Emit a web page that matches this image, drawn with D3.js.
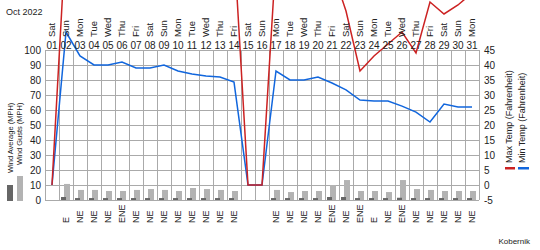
<!DOCTYPE html>
<html>
<head>
<meta charset="utf-8">
<script src="https://cdn.jsdelivr.net/npm/d3@7"></script>
<style>
  body { margin: 0; background: #fff; }
  text { font-family: "Liberation Sans", Arial, sans-serif; fill: #222; }
</style>
</head>
<body>
<div class="chart"></div>
<script>
// days of the month and their weekday names
const dates = ["01","02","03","04","05","06","07","08","09","10","11","12","13","14","15","16",
    "17","18","19","20","21","22","23","24","25","26","27","28","29","30","31"];
const weekdays = ["Sat","Sun","Mon","Tue","Wed","Thu","Fri","Sat","Sun","Mon","Tue","Wed","Thu","Fri",
    "Sat","Sun","Mon","Tue","Wed","Thu","Fri","Sat","Sun","Mon","Tue","Wed","Thu","Fri","Sat","Sun","Mon"];
const windDir = ["","E","NE","NE","NE","ENE","NE","NE","NE","NE","NE","NE","NE","NE","","",
    "NE","NE","NE","NE","ENE","NE","ENE","E","NE","ENE","NE","NE","NE","NE","NE"];

// wind (MPH)
const windAvg = [null,2,1.3,1.3,1.3,1.3,1.3,1.3,1.3,1.3,1.3,1.3,1.3,1.3,null,null,
    1.3,1.3,1.3,1.3,2,2,1.3,1.3,1.3,1.5,1.3,1.3,1.3,1.3,1.3];
const windGust = [null,10.7,6.7,6.7,6,6,6.7,7.3,6.7,6,8,7.3,6.7,6,null,null,
    6.7,5.3,6,6,10,13.3,6,6,5.3,13.3,7.3,6.7,6,6,6];

// temperature (F)
const maxTemp = [0,84,82,80,80,82,80,80,80,80,80,80,80,80,0,0,
    76,75,75,75,72,58,38,43,47,51,44,61,57,60,64];
const minTemp = [0,51,43,40,40,41,39,39,40,38,37,36.3,36,34.3,0,0,
    38,35,35,36,34,31.7,28.3,28,28,26.3,24.3,21,27,26,26];

// axis ticks
const windTicks = [0,10,20,30,40,50,60,70,80,90,100];
const tempTicks = [-5,0,5,10,15,20,25,30,35,40,45];

const W = 540, H = 250;
const plotL = 45, plotR = 479, plotT = 50, plotB = 200;

const svg = d3.select("div.chart")
    .append("svg")
    .attr("width", W)
    .attr("height", H);

const x = d3.scaleBand().domain(dates).range([plotL, plotR]).padding(0);
const bw = x.bandwidth();
const yWind = d3.scaleLinear().domain([0, 100]).range([plotB, plotT]);
const yTemp = d3.scaleLinear().domain([-5, 45]).range([plotB, plotT]);

const grid = "#aaa";

// horizontal grid
svg.selectAll("line.h")
    .data(windTicks)
    .enter().append("line")
    .attr("x1", plotL).attr("x2", plotR)
    .attr("y1", d => yWind(d) + 0.5).attr("y2", d => yWind(d) + 0.5)
    .attr("stroke", grid);

// vertical grid (column edges)
svg.selectAll("line.v")
    .data(dates.concat(["end"]))
    .enter().append("line")
    .attr("x1", d => Math.round(d === "end" ? plotR : x(d)) + 0.5)
    .attr("x2", d => Math.round(d === "end" ? plotR : x(d)) + 0.5)
    .attr("y1", plotT).attr("y2", plotB)
    .attr("stroke", grid);

// left ticks
svg.selectAll("text.yl")
    .data(windTicks)
    .enter().append("text")
    .attr("x", 41).attr("y", d => yWind(d))
    .attr("dy", "0.35em")
    .attr("text-anchor", "end")
    .attr("font-size", "10px")
    .text(d => d);

// right ticks
svg.selectAll("text.yr")
    .data(tempTicks)
    .enter().append("text")
    .attr("x", 484).attr("y", d => yTemp(d))
    .attr("dy", "0.35em")
    .attr("font-size", "10px")
    .text(d => d);

// wind bars: gusts behind, average in front
const idx = d3.range(dates.length);
svg.selectAll("rect.gust")
    .data(idx.filter(i => windGust[i] != null))
    .enter().append("rect")
    .attr("x", i => x(dates[i]) + 5)
    .attr("width", 6)
    .attr("y", i => yWind(windGust[i]))
    .attr("height", i => plotB - yWind(windGust[i]))
    .attr("fill", "#b3b3b3");

svg.selectAll("rect.avg")
    .data(idx.filter(i => windAvg[i] != null))
    .enter().append("rect")
    .attr("x", i => x(dates[i]) + 2)
    .attr("width", 5)
    .attr("y", i => yWind(windAvg[i]))
    .attr("height", i => plotB - yWind(windAvg[i]))
    .attr("fill", "#666");

// temperature lines
function drawLine(values, color) {
    svg.append("path")
        .datum(idx)
        .attr("fill", "none")
        .attr("stroke", color)
        .attr("stroke-width", 1.5)
        .attr("d", d3.line()
            .x(i => x(dates[i]) + bw / 2)
            .y(i => yTemp(values[i])));
}
drawLine(minTemp, "#1166dd");
drawLine(maxTemp, "#cc2222");

// top labels
svg.append("text")
    .attr("x", 6).attr("y", 15)
    .attr("font-size", "9px")
    .text("Oct 2022");

svg.selectAll("text.wd")
    .data(idx)
    .enter().append("text")
    .attr("transform", i => `translate(${x(dates[i]) + bw / 2},37) rotate(-90)`)
    .attr("dy", "0.35em")
    .attr("font-size", "9.5px")
    .text(i => weekdays[i]);

svg.selectAll("text.dt")
    .data(idx)
    .enter().append("text")
    .attr("x", i => x(dates[i]) + bw / 2)
    .attr("y", 45)
    .attr("dy", "0.35em")
    .attr("text-anchor", "middle")
    .attr("font-size", "10px")
    .text(i => dates[i]);

// wind direction labels
svg.selectAll("text.dir")
    .data(idx)
    .enter().append("text")
    .attr("transform", i => `translate(${x(dates[i]) + bw / 2},223) rotate(-90)`)
    .attr("dy", "0.35em")
    .attr("font-size", "9px")
    .text(i => windDir[i]);

// left legend
svg.append("rect").attr("x", 7).attr("y", 185).attr("width", 6).attr("height", 16).attr("fill", "#666");
svg.append("rect").attr("x", 17).attr("y", 176).attr("width", 6).attr("height", 25).attr("fill", "#b3b3b3");
svg.append("text")
    .attr("transform", "translate(10,173) rotate(-90)")
    .attr("dy", "0.35em")
    .attr("font-size", "7.5px")
    .text("Wind Average (MPH)");
svg.append("text")
    .attr("transform", "translate(19.5,165) rotate(-90)")
    .attr("dy", "0.35em")
    .attr("font-size", "7.5px")
    .text("Wind Gusts (MPH)");

// right legend
svg.append("rect").attr("x", 505).attr("y", 167).attr("width", 10).attr("height", 2.5).attr("fill", "#cc2222");
svg.append("rect").attr("x", 518).attr("y", 167).attr("width", 11).attr("height", 2.5).attr("fill", "#1166dd");
svg.append("text")
    .attr("transform", "translate(509,163) rotate(-90)")
    .attr("dy", "0.35em")
    .attr("font-size", "9px")
    .text("Max Temp (Fahrenheit)");
svg.append("text")
    .attr("transform", "translate(522,163) rotate(-90)")
    .attr("dy", "0.35em")
    .attr("font-size", "9px")
    .text("Min Temp (Fahrenheit)");

svg.append("text")
    .attr("x", 530).attr("y", 244)
    .attr("text-anchor", "end")
    .attr("font-size", "8px")
    .text("Kobernik");
</script>
</body>
</html>
